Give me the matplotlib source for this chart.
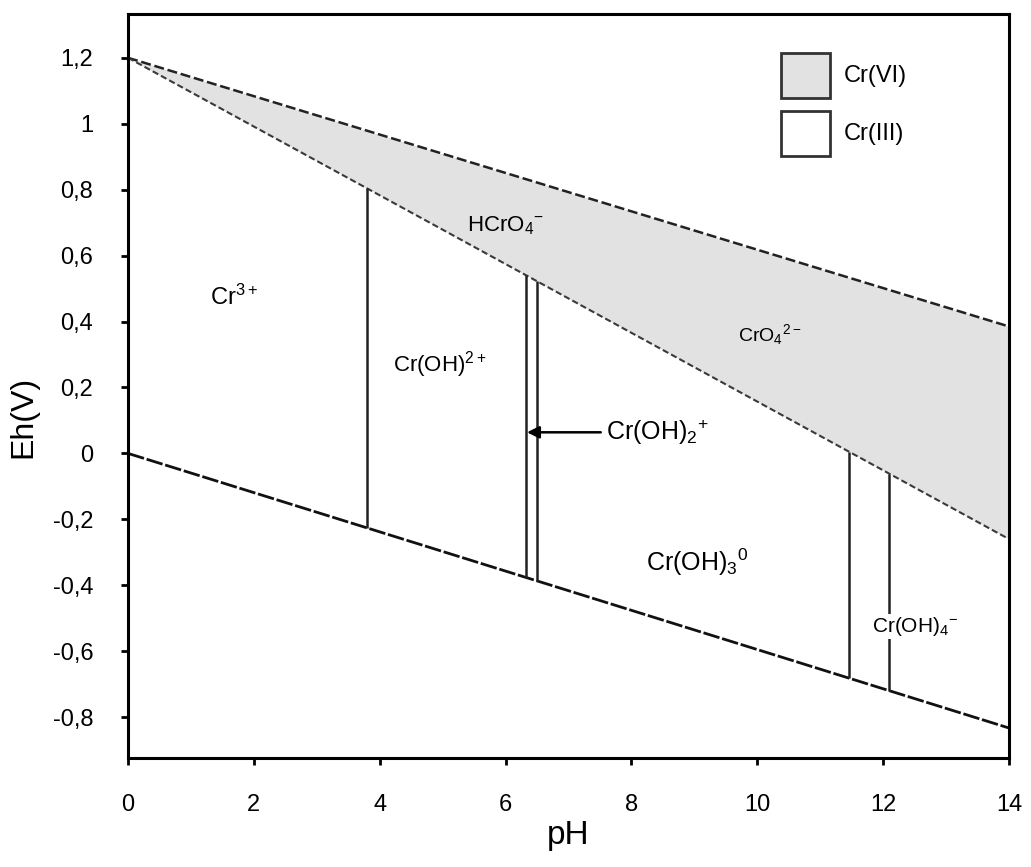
import matplotlib

matplotlib.use("Agg")
import matplotlib.pyplot as plt  # noqa: E402
from matplotlib.patches import Rectangle  # noqa: E402

plt.rcParams["font.family"] = ["Liberation Sans", "DejaVu Sans"]
plt.rcParams["mathtext.fontset"] = "custom"
plt.rcParams["mathtext.rm"] = "Liberation Sans"
plt.rcParams["mathtext.it"] = "Liberation Sans"

# boundary lines (pH, Eh)
ph_ends = [0, 14]
upper_eh = [1.2, 0.385]      # O2 / H2O stability limit
cr6_eh = [1.2, -0.26]        # Cr(VI) / Cr(III) boundary
lower_eh = [0.0, -0.833]     # H2O / H2 stability limit

# vertical species boundaries: pH, bottom Eh, top Eh
vert_ph = [3.8, 6.33, 6.5, 11.46, 12.1]
vert_bottom = [-0.226, -0.377, -0.387, -0.682, -0.72]
vert_top = [0.804, 0.54, 0.522, 0.005, -0.062]

# species labels
species = [r"Cr$^{3+}$", r"HCrO$_4$$^{-}$", r"Cr(OH)$^{2+}$", r"CrO$_4$$^{2-}$",
           r"Cr(OH)$_2$$^{+}$", r"Cr(OH)$_3$$^{0}$", r"Cr(OH)$_4$$^{-}$"]
species_ph = [1.68, 6.0, 4.95, 10.2, 7.6, 9.05, 12.5]
species_eh = [0.475, 0.69, 0.27, 0.36, 0.064, -0.33, -0.525]
species_size = [17, 16, 16, 14, 18, 18, 15]

legend_labels = ["Cr(VI)", "Cr(III)"]
legend_colors = ["#e2e2e2", "white"]

xticks = [0, 2, 4, 6, 8, 10, 12, 14]
yticks = [-0.8, -0.6, -0.4, -0.2, 0, 0.2, 0.4, 0.6, 0.8, 1.0, 1.2]
ytick_labels = ["-0,8", "-0,6", "-0,4", "-0,2", "0", "0,2", "0,4", "0,6", "0,8", "1", "1,2"]

fig = plt.figure(figsize=(10.31, 8.67), dpi=100)
ax = fig.add_axes([0.1242, 0.1257, 0.8545, 0.8582])

ax.fill_between(ph_ends, cr6_eh, upper_eh, color="#e2e2e2", lw=0)
ax.plot(ph_ends, upper_eh, color="#222222", lw=1.8, ls=(0, (4, 1.5)))
ax.plot(ph_ends, cr6_eh, color="#3a3a3a", lw=1.5, ls=(0, (3, 1.5)))
ax.plot(ph_ends, lower_eh, color="#111111", lw=2.0, ls=(0, (6, 1)))
ax.vlines(vert_ph, vert_bottom, vert_top, color="#222222", lw=1.8)

for i, (txt, px, py, fs) in enumerate(zip(species, species_ph, species_eh, species_size)):
    if i == 4:
        ax.annotate(txt, xy=(6.34, py), xytext=(px, py), fontsize=fs,
                    va="center", ha="left",
                    arrowprops=dict(arrowstyle="-|>", color="black", lw=1.8,
                                    mutation_scale=18, shrinkA=2, shrinkB=0))
    else:
        bbox = dict(fc="white", ec="none", pad=1) if i == 6 else None
        ax.text(px, py, txt, fontsize=fs, ha="center", va="center", bbox=bbox)

# legend boxes drawn by hand (square-ish swatches like the original)
for k, (lab, col) in enumerate(zip(legend_labels, legend_colors)):
    y0 = 0.887 - k * 0.078
    ax.add_patch(Rectangle((0.741, y0), 0.056, 0.060, transform=ax.transAxes,
                           fc=col, ec="#333333", lw=2.0, zorder=5))
    ax.text(0.812, y0 + 0.030, lab, transform=ax.transAxes, fontsize=17,
            ha="left", va="center")

ax.set_xlim(0, 14)
ax.set_ylim(-0.924, 1.333)
ax.set_xticks(xticks)
ax.set_yticks(yticks)
ax.set_yticklabels(ytick_labels)
ax.tick_params(direction="out", length=5, width=2, labelsize=17)
ax.tick_params(axis="x", pad=21)
ax.tick_params(axis="y", pad=20)
for sp in ax.spines.values():
    sp.set_linewidth(2.2)

ax.set_xlabel("pH", fontsize=24)
ax.set_ylabel("Eh(V)", fontsize=23)
ax.xaxis.set_label_coords(0.5, -0.083)
ax.yaxis.set_label_coords(-0.102, 0.458)

fig.savefig("out.png", dpi=100)
